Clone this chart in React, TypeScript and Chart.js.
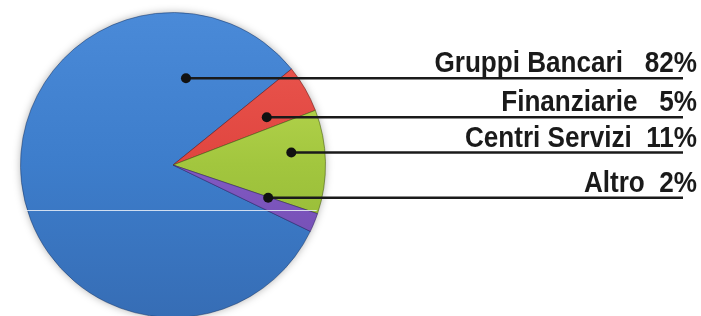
import React, { useEffect, useRef } from "react";
import { Chart, registerables } from "chart.js";

Chart.register(...registerables);

const categories = ["Gruppi Bancari", "Finanziarie", "Centri Servizi", "Altro"];
const shares = [82, 5, 11, 2];
const gaps = ["   ", "   ", "  ", "  "];

const baseColors = ["#3d7dcb", "#e0453f", "#a2c63e", "#8159c2"];
const topColors = ["#4a8ad8", "#ec5a52", "#c6e25c", "#9b78da"];
const bottomColors = ["#366db5", "#c93a33", "#8cb032", "#6b48aa"];
const edgeColors = ["rgba(30,60,110,0.55)", "rgba(120,30,25,0.6)", "rgba(80,100,20,0.6)", "rgba(60,40,110,0.6)"];

// label anchor placement (angle clockwise from top in degrees, fraction of radius)
const anchorAngles = [8.5, 63, 84, 109];
const anchorRadii = [0.575, 0.69, 0.78, 0.66];

const W = 701;
const H = 320;

const shadowPlugin = {
  id: "pieShadow",
  beforeDatasetsDraw(chart: any) {
    const meta = chart.getDatasetMeta(0);
    const a = meta.data[0];
    if (!a) return;
    const ctx = chart.ctx;
    ctx.save();
    ctx.shadowColor = "rgba(0,0,0,0.35)";
    ctx.shadowBlur = 8;
    ctx.fillStyle = "#3d7dcb";
    ctx.beginPath();
    ctx.arc(a.x, a.y, a.outerRadius - 0.5, 0, Math.PI * 2);
    ctx.fill();
    ctx.restore();
  },
};

const labelPlugin = {
  id: "leaderLabels",
  afterDatasetsDraw(chart: any) {
    const ctx = chart.ctx;
    const meta = chart.getDatasetMeta(0);
    const arc0 = meta.data[0];
    if (!arc0) return;
    const cx = arc0.x;
    const cy = arc0.y;
    const r = arc0.outerRadius;
    ctx.save();
    // faint horizontal artifact line across pie
    const dy = 45;
    const hx = Math.sqrt(Math.max(r * r - dy * dy, 0));
    ctx.strokeStyle = "rgba(235,240,248,0.85)";
    ctx.lineWidth = 1;
    ctx.beginPath();
    ctx.moveTo(cx - hx - 3, cy + dy + 0.5);
    ctx.lineTo(cx + hx - 2, cy + dy + 0.5);
    ctx.stroke();

    const lineEnd = W - 18;
    const textRight = W - 4;
    categories.forEach((cat, i) => {
      const a = (anchorAngles[i] * Math.PI) / 180;
      const px = cx + Math.sin(a) * r * anchorRadii[i];
      const py = cy - Math.cos(a) * r * anchorRadii[i];
      ctx.strokeStyle = "#1a1a1a";
      ctx.lineWidth = 2.5;
      ctx.beginPath();
      ctx.moveTo(px, py);
      ctx.lineTo(lineEnd, py);
      ctx.stroke();
      ctx.fillStyle = "#111";
      ctx.beginPath();
      ctx.arc(px, py, 5, 0, Math.PI * 2);
      ctx.fill();
      ctx.save();
      ctx.translate(textRight, py - 6);
      ctx.scale(0.9, 1);
      ctx.font = "bold 29px 'Liberation Sans Narrow', 'Liberation Sans', Arial, sans-serif";
      ctx.textAlign = "right";
      ctx.textBaseline = "alphabetic";
      ctx.fillStyle = "#1a1a1a";
      ctx.fillText(cat + gaps[i] + shares[i] + "%", 0, 0);
      ctx.restore();
    });
    ctx.restore();
  },
};

export default function App() {
  const ref = useRef<HTMLCanvasElement | null>(null);
  useEffect(() => {
    if (!ref.current) return;
    const chart = new Chart(ref.current, {
      type: "pie",
      data: {
        labels: categories,
        datasets: [
          {
            data: shares,
            backgroundColor: (c: any) => {
              const i = c.dataIndex;
              const area = c.chart.chartArea;
              if (!area) return baseColors[i];
              const g = c.chart.ctx.createLinearGradient(0, area.top, 0, area.bottom);
              g.addColorStop(0, topColors[i]);
              g.addColorStop(0.5, baseColors[i]);
              g.addColorStop(1, bottomColors[i]);
              return g;
            },
            borderColor: edgeColors,
            borderWidth: 1,
          },
        ],
      },
      options: {
        animation: false,
        responsive: false,
        rotation: 115.8,
        layout: { padding: { left: 20, top: 12, right: W - 326, bottom: H - 318 } },
        plugins: { legend: { display: false }, tooltip: { enabled: false } },
      },
      plugins: [shadowPlugin, labelPlugin],
    });
    return () => chart.destroy();
  }, []);
  return (
    <div style={{ position: "absolute", left: 0, top: 0, width: W, height: H, background: "#fff" }}>
      <canvas ref={ref} width={W} height={H} style={{ width: W, height: H, display: "block" }} />
    </div>
  );
}
